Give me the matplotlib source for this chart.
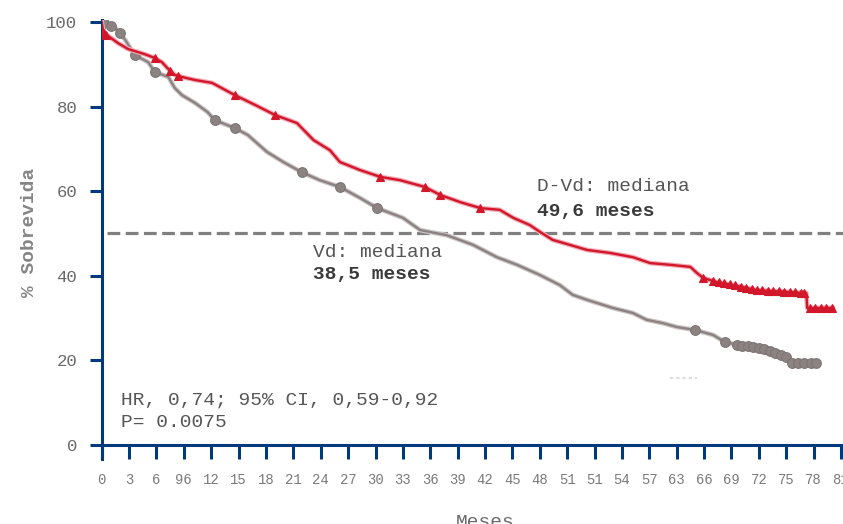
import matplotlib
matplotlib.use('Agg')
import matplotlib.pyplot as plt
import numpy as np

# Kaplan-Meier curves (months, % survival)
dvd_t = [0, 0.2, 1.8, 2.9, 4.7, 5.8, 6.6, 7.2, 8.0, 8.8, 10.2, 12.1, 14.6, 16.8, 19.0,
         21.4, 23.2, 25.0, 26.1, 28.3, 30.5, 32.7, 35.4, 37.1, 39.3, 41.5, 43.6, 45.1,
         46.9, 48.0, 49.4, 51.3, 53.2, 55.7, 58.2, 60.1, 62.3, 64.5, 65.2, 65.9, 67.4,
         69.2, 71.8, 75.1, 77.2, 77.3, 80.1]
dvd_s = [100, 97.5, 95.0, 93.6, 92.4, 91.5, 90.5, 89.1, 87.5, 87.0, 86.3, 85.6, 82.7, 80.4,
         78.0, 76.1, 72.1, 69.7, 66.9, 65.0, 63.4, 62.6, 61.0, 59.1, 57.4, 56.0, 55.6, 53.7,
         52.0, 50.4, 48.5, 47.3, 46.1, 45.4, 44.4, 43.0, 42.6, 42.1, 40.7, 39.5, 38.5,
         37.8, 36.6, 36.2, 35.9, 32.4, 32.4]

vd_t = [0, 1.5, 2.6, 3.6, 5.1, 5.8, 7.3, 8.0, 8.8, 10.2, 11.6, 12.4, 14.6, 16.0, 18.1,
        19.9, 21.9, 23.9, 26.1, 28.3, 30.2, 33.0, 34.9, 37.8, 40.7, 43.3, 45.5, 48.0,
        50.2, 51.6, 53.2, 56.0, 58.2, 59.7, 61.5, 63.0, 65.0, 67.0, 68.3, 69.9, 72.1,
        74.0, 75.3, 75.4, 78.4]
vd_s = [100, 98.6, 95.7, 92.2, 90.5, 88.2, 87.0, 84.4, 82.7, 80.9, 78.7, 76.8, 74.9, 73.3,
        69.3, 66.9, 64.5, 62.6, 61.0, 58.4, 56.0, 53.7, 50.8, 49.6, 47.3, 44.4, 42.6, 40.2,
        37.8, 35.5, 34.3, 32.4, 31.2, 29.6, 28.8, 27.9, 27.2, 26.0, 24.3, 23.6, 22.9,
        21.7, 20.6, 19.4, 19.4]

# censored observations (months)
dvd_cens = [0.2, 0.5, 5.8, 7.5, 8.4, 14.6, 19.0, 30.5, 35.4, 37.1, 41.5, 65.9,
            67.0, 67.6, 68.2, 68.8, 69.4, 70.0, 70.6, 71.2, 71.8, 72.4, 73.0, 73.6,
            74.2, 74.8, 75.4, 76.0, 76.6, 77.0, 77.6, 78.2, 78.8, 79.4, 80.0]
vd_cens = [0.3, 1.0, 2.0, 3.6, 5.8, 12.4, 14.6, 21.9, 26.1, 30.2, 65.0, 68.3,
           69.6, 70.2, 70.8, 71.4, 72.0, 72.6, 73.2, 73.8, 74.4, 75.0, 75.6, 76.3,
           77.0, 77.7, 78.3]

x_ticks = list(range(0, 82, 3))
x_labels = ['0', '3', '6', '96', '12', '15', '18', '21', '24', '27', '30', '33', '36',
            '39', '42', '45', '48', '51', '51', '54', '57', '63', '66', '69', '72', '75',
            '78', '81']
y_ticks = [0, 20, 40, 60, 80, 100]

NAVY = '#003a7d'
RED = '#d2172a'
GRAY = '#8c8282'
MONO = 'Liberation Mono'


def surv_at(t, s, times):
    # value of the curve at the given times (linear, as the curve is drawn)
    return np.interp(times, t, s)


fig = plt.figure(figsize=(8.43, 5.24), dpi=100)
ax = fig.add_axes([101.7 / 843, 1 - 445 / 524, 1 - 101.7 / 843, (445 - 20) / 524])
ax.set_xlim(0, 81.22)
ax.set_ylim(0, 100.47)

# median reference line
ax.plot([0.6, 81.22], [50, 50], color='#808080', lw=2.3, dashes=(4, 1.7), zorder=2)
ax.plot([62.3, 65.2], [15.8, 15.8], color='#dcdcdc', lw=1.5, dashes=(1.5, 1.5), zorder=2)

# curves (soft halo + line)
ax.plot(vd_t, vd_s, color='#cdc6c6', lw=3.4, zorder=3)
ax.plot(vd_t, vd_s, color=GRAY, lw=1.7, zorder=4)
ax.plot(dvd_t, dvd_s, color='#f2a9b6', lw=3.4, zorder=5)
ax.plot(dvd_t, dvd_s, color=RED, lw=1.7, zorder=6)

ax.plot(vd_cens, surv_at(vd_t, vd_s, vd_cens), 'o', ms=7, color=GRAY,
        mec='#7d7474', mew=0.8, zorder=4)
ax.plot(dvd_cens, surv_at(dvd_t, dvd_s, dvd_cens), '^', ms=6, color=RED,
        mec=RED, mew=0.8, zorder=6)

# axes styling
for side in ['top', 'right']:
    ax.spines[side].set_visible(False)
for side in ['left', 'bottom']:
    ax.spines[side].set_color(NAVY)
    ax.spines[side].set_linewidth(2.2)
ax.plot([0, 0], [-3.3, 0], color=NAVY, lw=2.2, clip_on=False, zorder=7)

ax.set_xticks(x_ticks)
ax.set_xticklabels(x_labels)
ax.set_yticks(y_ticks)
ax.tick_params(axis='x', length=10, width=2.2, color=NAVY, pad=10,
               labelsize=10, labelcolor='#7a7a7a')
ax.tick_params(axis='y', length=8.6, width=2.2, color=NAVY, pad=9,
               labelsize=12.5, labelcolor='#6a6a6a')
for lab in ax.get_xticklabels() + ax.get_yticklabels():
    lab.set_family(MONO)

ax.set_ylabel('% Sobrevida', family=MONO, fontsize=14, fontweight='bold',
              color='#858585', labelpad=6)
fig.text(485 / 843, 1 - 514 / 524, 'Meses', family=MONO, fontsize=14,
         color='#6a6a6a', ha='center', va='top')

# annotations
ax.text(47.7, 61.0, 'D-Vd: mediana', family=MONO, fontsize=14, color='#555555', va='center')
ax.text(47.7, 55.3, '49,6 meses', family=MONO, fontsize=14, fontweight='bold',
        color='#3a3a3a', va='center')
ax.text(23.15, 45.6, 'Vd: mediana', family=MONO, fontsize=14, color='#555555', va='center')
ax.text(23.15, 40.2, '38,5 meses', family=MONO, fontsize=14, fontweight='bold',
        color='#3a3a3a', va='center')
ax.text(2.1, 10.6, 'HR, 0,74; 95% CI, 0,59-0,92', family=MONO, fontsize=14,
        color='#555555', va='center')
ax.text(2.1, 5.4, 'P= 0.0075', family=MONO, fontsize=14, color='#555555', va='center')

fig.savefig('out.png', dpi=100)
plt.close(fig)
